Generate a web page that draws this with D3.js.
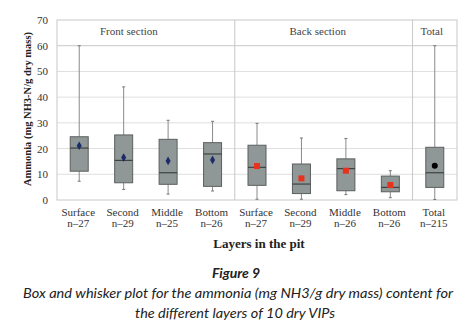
<!DOCTYPE html>
<html><head><meta charset="utf-8">
<script src="https://cdn.jsdelivr.net/npm/d3@7/dist/d3.min.js"></script>
<style>body{margin:0;background:#fff}svg{display:block}</style>
</head><body>
<svg id="c" width="467" height="330"></svg>
<script>
const categories = ["Surface","Second","Middle","Bottom","Surface","Second","Middle","Bottom","Total"];
const counts = ["n=27","n=29","n=25","n=26","n=27","n=29","n=26","n=26","n=215"];
const groups = ["front","front","front","front","back","back","back","back","total"];
const whiskerLow = [7.3, 4.1, 2.3, 3.5, 0.3, 0.3, 2.1, 0.9, 0.2];
const q1 =        [11.2, 6.7, 6.1, 5.3, 5.7, 2.5, 3.6, 3.2, 4.9];
const median =    [20.2, 15.4, 10.6, 17.9, 12.7, 6.2, 12.2, 4.9, 10.6];
const q3 =        [24.6, 25.3, 23.6, 22.3, 21.3, 14.0, 16.0, 9.3, 20.5];
const whiskerHigh=[60, 44, 31, 30.6, 29.8, 24.1, 23.9, 11.4, 60];
const means =     [21.1, 16.5, 15.2, 15.6, 13.2, 8.4, 11.4, 5.8, 13.3];
const yTicks = [0,10,20,30,40,50,60,70];
const sections = [{name:"Front section", from:0, to:3}, {name:"Back section", from:4, to:7}, {name:"Total", from:8, to:8}];

const svg = d3.select("#c");
const x = d3.scaleBand().domain(d3.range(categories.length)).range([57,457]).padding(0);
const y = d3.scaleLinear().domain([0,70]).range([200,20]);
const serif = "'Liberation Serif','DejaVu Serif',serif";

// gridlines
svg.append("g").selectAll("line").data(yTicks.filter(t=>t>0 && t<70)).join("line")
  .attr("x1",57).attr("x2",457).attr("y1",d=>y(d)).attr("y2",d=>y(d))
  .attr("stroke",d=>d===60?"#c8c8c8":"#dedede").attr("stroke-width",1);

// border
svg.append("rect").attr("x",57).attr("y",y(70)).attr("width",400).attr("height",y(0)-y(70))
  .attr("fill","none").attr("stroke","#c8c8c8");

// section dividers
[4,8].forEach(i=>{
  svg.append("line").attr("x1",x(i)).attr("x2",x(i)).attr("y1",y(70)).attr("y2",y(0))
    .attr("stroke","#c8c8c8");
});

// section labels
const secOffset = {"Front section":-17, "Back section":-6, "Total":-3};
svg.append("g").selectAll("text").data(sections).join("text")
  .attr("x",d=>(x(d.from)+x(d.to)+x.bandwidth())/2 + secOffset[d.name])
  .attr("y",35).attr("text-anchor","middle")
  .attr("font-family",serif).attr("font-size",11).attr("fill","#444")
  .text(d=>d.name);

// y axis labels
svg.append("g").selectAll("text").data(yTicks).join("text")
  .attr("x",48).attr("y",d=>y(d)+4).attr("text-anchor","end")
  .attr("font-family",serif).attr("font-size",11).attr("fill","#333").text(d=>d);

svg.append("text").attr("transform","translate(31,109) rotate(-90)")
  .attr("text-anchor","middle").attr("font-family",serif).attr("font-size",10.5)
  .attr("font-weight","bold").attr("fill","#222").text("Ammonia (mg NH3-N/g dry mass)");

// boxes
const bw = 18;
const g = svg.append("g").selectAll("g").data(categories.map((c,i)=>i)).join("g")
  .attr("transform",i=>`translate(${x(i)+x.bandwidth()/2},0)`);
g.append("line").attr("x1",0).attr("x2",0).attr("y1",i=>y(whiskerHigh[i])).attr("y2",i=>y(q3[i]))
  .attr("stroke","#8a8a8a");
g.append("line").attr("x1",0).attr("x2",0).attr("y1",i=>y(q1[i])).attr("y2",i=>y(whiskerLow[i]))
  .attr("stroke","#8a8a8a");
g.append("line").attr("x1",-1.5).attr("x2",1.5).attr("y1",i=>y(whiskerHigh[i])).attr("y2",i=>y(whiskerHigh[i]))
  .attr("stroke","#777");
g.append("line").attr("x1",-1.5).attr("x2",1.5).attr("y1",i=>y(whiskerLow[i])).attr("y2",i=>y(whiskerLow[i]))
  .attr("stroke","#777");
g.append("rect").attr("x",-bw/2).attr("width",bw).attr("y",i=>y(q3[i])).attr("height",i=>y(q1[i])-y(q3[i]))
  .attr("fill","#8f9896").attr("stroke","#5c5f5f").attr("stroke-width",1);
g.append("line").attr("x1",-bw/2).attr("x2",bw/2).attr("y1",i=>y(median[i])).attr("y2",i=>y(median[i]))
  .attr("stroke","#3e4242").attr("stroke-width",1.2);

// means
g.each(function(i){
  const s = d3.select(this); const cy = y(means[i]);
  if (groups[i]==="front") s.append("path").attr("d",d3.symbol(d3.symbolDiamond,22)()).attr("transform",`translate(0,${cy})`).attr("fill","#1b2b6b");
  else if (groups[i]==="back") s.append("rect").attr("x",-3).attr("y",cy-3).attr("width",6).attr("height",6).attr("fill","#e8321e");
  else s.append("circle").attr("cx",0).attr("cy",cy).attr("r",3).attr("fill","#000");
});

// x labels
svg.append("g").selectAll("text").data(categories).join("text")
  .attr("x",(d,i)=>x(i)+x.bandwidth()/2-1).attr("y",216).attr("text-anchor","middle")
  .attr("font-family",serif).attr("font-size",11).attr("fill","#333").text(d=>d);
svg.append("g").selectAll("text").data(counts).join("text")
  .attr("x",(d,i)=>x(i)+x.bandwidth()/2-1).attr("y",227).attr("text-anchor","middle")
  .attr("font-family",serif).attr("font-size",11).attr("fill","#333").text(d=>d.replace("=","\u2013"));

svg.append("text").attr("x",259).attr("y",248).attr("text-anchor","middle")
  .attr("font-family",serif).attr("font-size",13).attr("font-weight","bold").attr("fill","#222")
  .text("Layers in the pit");

// caption
const sans = "Lato,'Open Sans',sans-serif";
svg.append("text").attr("x",236).attr("y",278).attr("text-anchor","middle")
  .attr("font-family",sans).attr("font-size",14).attr("font-weight","bold").attr("font-style","italic")
  .attr("fill","#222").text("Figure 9");
svg.append("text").attr("x",238).attr("y",298).attr("text-anchor","middle")
  .attr("font-family",sans).attr("font-size",12.5).attr("font-style","italic").attr("fill","#222")
  .attr("textLength",430).attr("lengthAdjust","spacingAndGlyphs")
  .text("Box and whisker plot for the ammonia (mg NH3/g dry mass) content for");
svg.append("text").attr("x",235).attr("y",318).attr("text-anchor","middle")
  .attr("font-family",sans).attr("font-size",12.5).attr("font-style","italic").attr("fill","#222")
  .attr("textLength",200).attr("lengthAdjust","spacingAndGlyphs")
  .text("the different layers of 10 dry VIPs");
</script>
</body></html>
